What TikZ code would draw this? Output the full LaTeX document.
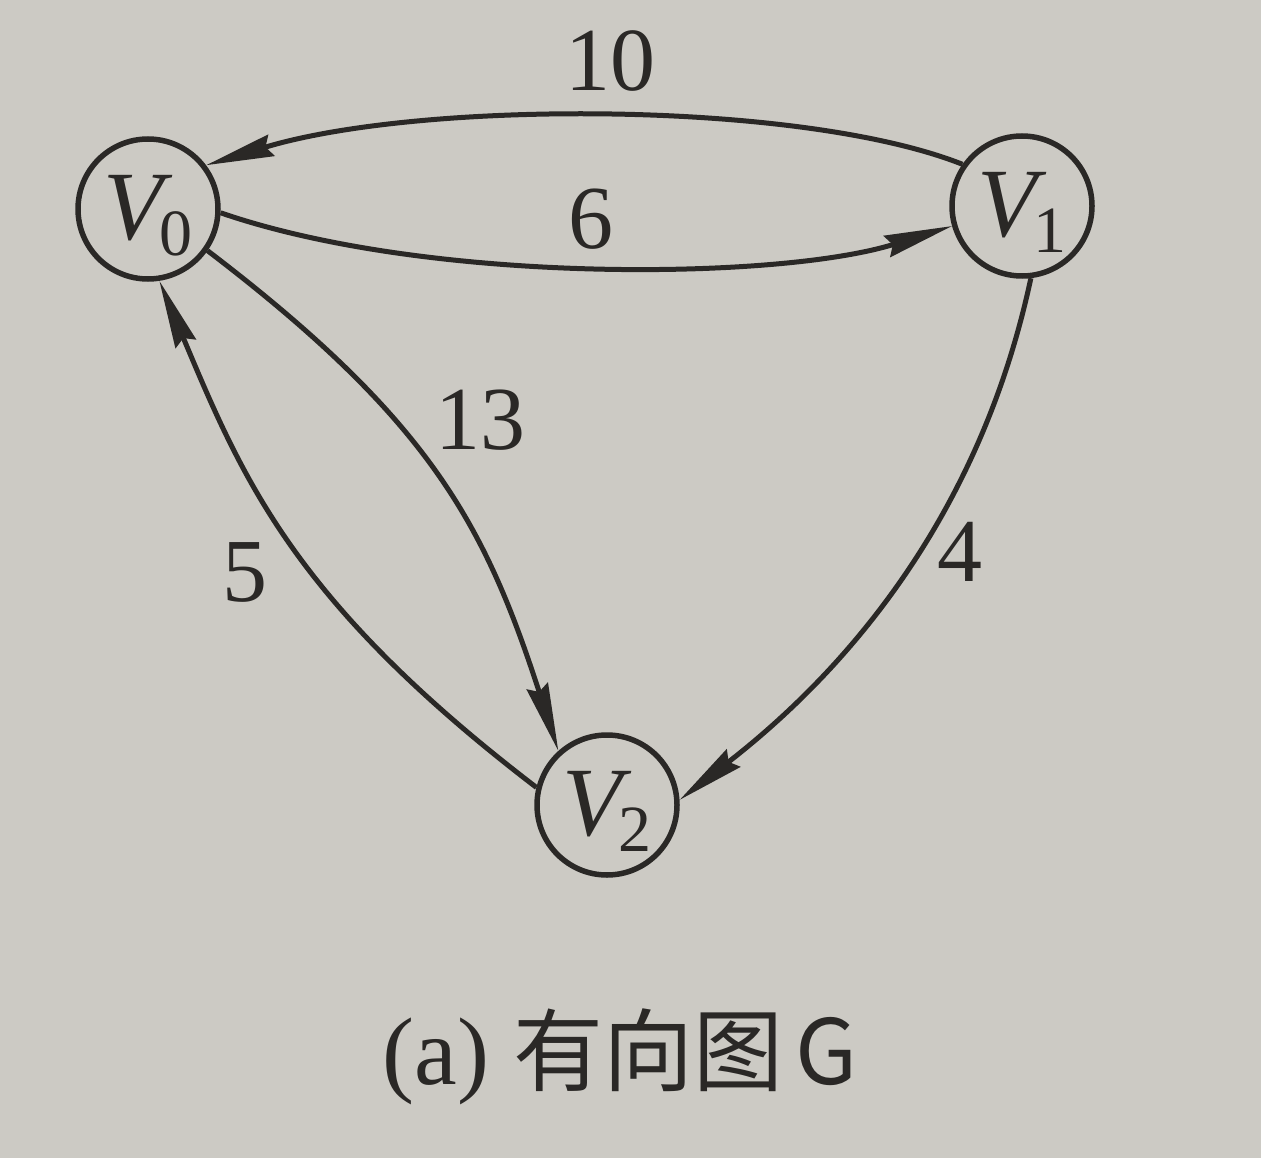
\documentclass[tikz,border=0pt]{standalone}
\usepackage{fontspec}
\setmainfont{Liberation Serif}
\newfontfamily\cjk{Noto Sans CJK SC}
\usetikzlibrary{arrows.meta}
\definecolor{paper}{RGB}{204,202,196}
\definecolor{ink}{RGB}{42,40,38}
\newcommand\vname[1]{\raisebox{-7pt}[64pt][17pt]{\fontsize{98}{98}\selectfont\textit{V}\kern-13pt\raisebox{-16pt}{\fontsize{66}{66}\selectfont #1}}}
\begin{document}
\begin{tikzpicture}[x=1pt,y=-1pt,
  vert/.style={circle,draw=ink,line width=5.5pt,minimum size=140pt,inner sep=0pt,text=ink},
  arr/.style={draw=ink,line width=5pt,-{Stealth[length=68pt,width=22pt,inset=6pt]}},
  wt/.style={text=ink,font=\fontsize{90}{90}\selectfont,inner sep=0pt}]
\fill[paper] (0,0) rectangle (1261,1158);
\useasboundingbox (0,0) rectangle (1261,1158);
\node[vert] (V0) at (148,209) {\vname{0}};
\node[vert] (V1) at (1022,206) {\vname{1}};
\node[vert] (V2) at (607,805) {\vname{2}};
\draw[arr] (V1.145) .. controls (800,100) and (420,100) .. (V0.37);
\draw[arr] (V0.-3) .. controls (430,285) and (780,280) .. (V1.-164);
\draw[arr] (V0.-35) .. controls (431,421) and (485,525) .. (V2.132);
\draw[arr] (V2.166) .. controls (294,602) and (243,480) .. (V0.-81);
\draw[arr] (V1.-83) .. controls (980,516) and (847,670) .. (V2.4);
\node[wt] (w10) at (610,61) {10};
\node[wt] (w6) at (591,219) {6};
\node[wt] (w13) at (480,420) {13};
\node[wt] (w5) at (245,572) {5};
\node[wt] (w4) at (960,552) {4};
\node[text=ink,inner sep=0pt] (cap) at (620,1057) {\fontsize{96}{96}\selectfont(a) {\cjk\fontsize{90}{90}\selectfont 有向图\kern12pt G}};
\end{tikzpicture}
\end{document}
